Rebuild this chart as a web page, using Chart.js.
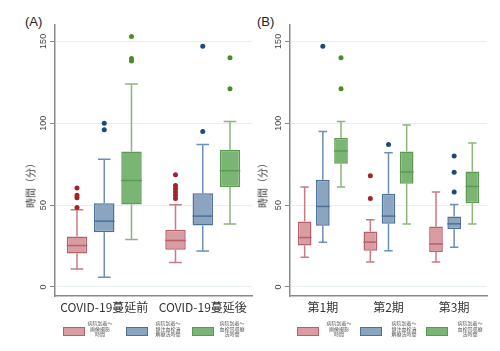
<!DOCTYPE html>
<html>
<head>
<meta charset="utf-8">
<script src="https://cdn.jsdelivr.net/npm/chart.js@4.4.0/dist/chart.umd.min.js"></script>
<style>
body { margin: 0; background: #fff; width: 500px; height: 351px; overflow: hidden; position: relative; font-family: 'Liberation Sans', Arial, sans-serif; }
canvas { position: absolute; top: 0; }
.plabel { position: absolute; top: 14px; font-size: 13px; color: #222; }
.ytitle { position: absolute; font-family: 'Noto Sans CJK JP'; font-size: 10px; color: #444; transform: translate(-50%, -50%) rotate(-90deg); white-space: nowrap; }
.sw { position: absolute; width: 20px; height: 7px; border: 1.5px solid; }
.lt { position: absolute; font-family: 'Noto Sans CJK JP'; font-size: 5px; line-height: 5.7px; text-align: center; transform: translateX(-50%); color: #555; white-space: pre; }
</style>
</head>
<body>
<div class="plabel" style="left:25px">(A)</div>
<div class="plabel" style="left:257px">(B)</div>
<canvas id="chartA" width="260" height="351" style="left:0"></canvas>
<canvas id="chartB" width="250" height="351" style="left:250px"></canvas>
<div class="ytitle" style="left:30px;top:183px">時間（分）</div>
<div class="ytitle" style="left:262px;top:183px">時間（分）</div>
<div id="legendA"></div>
<div id="legendB"></div>
<script>
// each box: [min, q1, median, q3, max]
var labelsA = ['COVID-19蔓延前', 'COVID-19蔓延後'];
var imageA = [[11, 20.4, 25.3, 30.8, 47.2], [15, 22.7, 28.4, 34.9, 50.2]];
var tpaA = [[6, 33.5, 40.2, 51.2, 78], [22, 37.5, 43.3, 57.2, 87]];
var evtA = [[29, 50.4, 65, 82.7, 124], [38.5, 61, 71, 83.8, 101]];
var imageOutA = [[48.5, 54.5, 56, 60.5], [54, 56, 58, 60, 62, 68.5]];
var tpaOutA = [[96, 100], [95, 147]];
var evtOutA = [[138, 139.5, 153], [121, 140]];

var labelsB = ['第1期', '第2期', '第3期'];
var imageB = [[18.2, 25.3, 30.2, 40, 61], [15.3, 22.2, 27.4, 33.9, 41], [15.3, 21.4, 26.3, 36.9, 58]];
var tpaB = [[27.4, 37.4, 49.2, 65.5, 95], [22.2, 38.6, 43.3, 57, 82], [24.3, 35.3, 38.6, 43, 50.4]];
var evtB = [[61, 75.3, 83.1, 91, 101], [38.4, 63, 70.2, 82.7, 99], [38.4, 51.2, 61.4, 70.6, 88]];
var imageOutB = [[], [54, 68], []];
var tpaOutB = [[147], [87], [58, 70, 80]];
var evtOutB = [[121, 140], [], []];

var yTicks = [0, 50, 100, 150];
var seriesNames = ['病院到着～\n画像撮影\n時間', '病院到着～\n静注血栓溶\n解療法時間', '病院到着～\n血栓回収療\n法時間'];

var fills = ['#d99ca2', '#8ba4c0', '#7bb574'];
var lines = ['#b8606a', '#4d7099', '#5c9a50'];
var whisk = ['#c77b84', '#6d8fb5', '#8db47c'];
var dots = ['#a3232d', '#1c4a7c', '#4f8a2a'];

var boxPlugin = {
  id: 'boxes',
  beforeDatasetsDraw: function(chart) {
    var ctx = chart.ctx, y = chart.scales.y;
    chart.data.datasets.forEach(function(ds, di) {
      chart.getDatasetMeta(di).data.forEach(function(bar, i) {
        var s = ds.stats[i];
        var x = bar.x, cap = bar.width * 0.62;
        ctx.save();
        ctx.strokeStyle = ds.whiskerColor;
        ctx.lineWidth = 1.5;
        ctx.beginPath();
        ctx.moveTo(x, y.getPixelForValue(s[1]));
        ctx.lineTo(x, y.getPixelForValue(s[0]));
        ctx.moveTo(x, y.getPixelForValue(s[3]));
        ctx.lineTo(x, y.getPixelForValue(s[4]));
        ctx.moveTo(x - cap / 2, y.getPixelForValue(s[0]));
        ctx.lineTo(x + cap / 2, y.getPixelForValue(s[0]));
        ctx.moveTo(x - cap / 2, y.getPixelForValue(s[4]));
        ctx.lineTo(x + cap / 2, y.getPixelForValue(s[4]));
        ctx.stroke();
        ctx.restore();
      });
    });
  },
  afterDatasetsDraw: function(chart) {
    var ctx = chart.ctx, y = chart.scales.y;
    chart.data.datasets.forEach(function(ds, di) {
      chart.getDatasetMeta(di).data.forEach(function(bar, i) {
        var s = ds.stats[i];
        var x = bar.x, w = bar.width;
        ctx.save();
        ctx.strokeStyle = ds.borderColor;
        ctx.lineWidth = 1.5;
        ctx.beginPath();
        ctx.moveTo(x - w / 2, y.getPixelForValue(s[2]));
        ctx.lineTo(x + w / 2, y.getPixelForValue(s[2]));
        ctx.stroke();
        ctx.fillStyle = ds.dotColor;
        ds.outliers[i].forEach(function(v) {
          ctx.beginPath();
          ctx.arc(x, y.getPixelForValue(v), 2.5, 0, Math.PI * 2);
          ctx.fill();
        });
        ctx.restore();
      });
    });
  }
};

function makeChart(id, labels, series, outs, yw, padRight) {
  var datasets = [];
  series.forEach(function(s, k) {
    datasets.push({
      label: seriesNames[k],
      data: s.map(function(b) { return [b[1], b[3]]; }),
      stats: s,
      outliers: outs[k],
      backgroundColor: fills[k],
      borderColor: lines[k],
      whiskerColor: whisk[k],
      dotColor: dots[k],
      borderWidth: 1.5,
      borderSkipped: false,
      categoryPercentage: 0.83,
      barPercentage: 0.75
    });
  });

  new Chart(document.getElementById(id), {
    type: 'bar',
    data: { labels: labels, datasets: datasets },
    options: {
      responsive: false,
      animation: false,
      layout: { padding: { left: 0, right: padRight, top: 25, bottom: 0 } },
      plugins: { legend: { display: false }, tooltip: { enabled: false } },
      scales: {
        x: {
          afterFit: function(sc) { sc.height = 55; },
          border: { color: '#8a8a8a', width: 1.5 },
          grid: { display: false, drawTicks: false },
          ticks: { padding: 4, autoSkip: false, maxRotation: 0, color: '#333', font: { size: 12, family: 'Noto Sans CJK JP' } }
        },
        y: {
          min: -5.5,
          max: 160,
          afterFit: function(sc) { sc.width = yw; },
          afterBuildTicks: function(sc) { sc.ticks = yTicks.map(function(v) { return { value: v }; }); },
          border: { color: '#8a8a8a', width: 1.5 },
          grid: { color: '#e8eff1', lineWidth: 1, tickLength: 5, tickColor: '#8a8a8a' },
          ticks: { minRotation: 90, maxRotation: 90, crossAlign: 'center', padding: -1, color: '#444', font: { size: 9, family: 'Liberation Sans' } }
        }
      }
    },
    plugins: [boxPlugin]
  });
}

makeChart('chartA', labelsA, [imageA, tpaA, evtA], [imageOutA, tpaOutA, evtOutA], 55, 8);
makeChart('chartB', labelsB, [imageB, tpaB, evtB], [imageOutB, tpaOutB, evtOutB], 40, 13);

// legend under each panel
function makeLegend(id, swX, textX) {
  var el = document.getElementById(id);
  seriesNames.forEach(function(name, k) {
    var sw = document.createElement('div');
    sw.className = 'sw';
    sw.style.left = swX[k] + 'px';
    sw.style.top = '327px';
    sw.style.background = fills[k];
    sw.style.borderColor = lines[k];
    el.appendChild(sw);
    var t = document.createElement('div');
    t.className = 'lt';
    t.style.left = textX[k] + 'px';
    t.style.top = '320px';
    t.textContent = name;
    el.appendChild(t);
  });
}
makeLegend('legendA', [63, 126, 192], [100, 168, 232]);
makeLegend('legendB', [297, 360, 426], [339, 404, 470]);
</script>
</body>
</html>
